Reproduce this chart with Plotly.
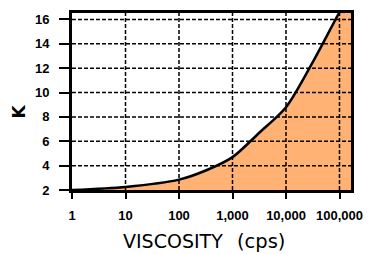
import plotly.graph_objects as go
import numpy as np

viscosity = [1, 10, 100, 316, 1000, 3162, 10000, 31623, 100000, 200000]
k_values = [2.0, 2.25, 2.85, 3.6, 4.7, 6.7, 8.8, 12.5, 16.6, 18.9]
x_tickvals = [1, 10, 100, 1000, 10000, 100000]
x_ticktext = ["1", "10", "100", "1,000", "10,000", "100,000"]
y_tickvals = [2, 4, 6, 8, 10, 12, 14, 16]

x_min, x_max = 1, 10 ** 5.215
y_min, y_max = 2, 16.53

fig = go.Figure()
fig.add_trace(go.Scatter(
    x=viscosity, y=k_values, mode="lines", line=dict(color="black", width=2.5, shape="spline", smoothing=0.8),
    fill="tozeroy", fillcolor="#FFB273", hoverinfo="skip", showlegend=False,
))
grid_style = dict(color="black", width=1.5, dash="4px,2px")
for xv in x_tickvals[1:]:
    fig.add_trace(go.Scatter(x=[xv, xv], y=[y_min, y_max], mode="lines", line=grid_style,
                             hoverinfo="skip", showlegend=False))
for yv in y_tickvals[1:]:
    fig.add_trace(go.Scatter(x=[x_min, x_max], y=[yv, yv], mode="lines", line=grid_style,
                             hoverinfo="skip", showlegend=False))

tick_font = dict(family="Liberation Sans, Arial", size=13, color="black", weight="bold")
title_font = dict(family="DejaVu Sans", size=19, color="black")

fig.update_layout(
    width=373, height=254,
    margin=dict(l=72, r=17, t=10, b=64),
    paper_bgcolor="white", plot_bgcolor="white",
    xaxis=dict(type="log", range=[np.log10(x_min), np.log10(x_max)], tickvals=x_tickvals, ticktext=x_ticktext,
               showgrid=False, zeroline=False, showline=True, linecolor="black", linewidth=3, mirror=True,
               ticks="outside", ticklen=6, tickwidth=2, tickcolor="black", tickfont=tick_font,
               ticklabelstandoff=5),
    yaxis=dict(range=[y_min, y_max], tickvals=y_tickvals, showgrid=False, zeroline=False,
               showline=True, linecolor="black", linewidth=3, mirror=True,
               ticks="outside", ticklen=10, tickwidth=2, tickcolor="black", tickfont=tick_font,
               ticklabelstandoff=7),
    annotations=[
        dict(text="VISCOSITY", xref="paper", yref="paper", x=0.176, y=0,
             xanchor="left", yanchor="top", yshift=-38, showarrow=False, font=title_font),
        dict(text="(cps)", xref="paper", yref="paper", x=0.5845, y=0,
             xanchor="left", yanchor="top", yshift=-38, showarrow=False,
             font=dict(family="DejaVu Sans", size=19.5, color="black")),
        dict(text="K", xref="paper", yref="paper", x=0, y=0.5, xshift=-54, yshift=-10,
             xanchor="center", yanchor="middle", textangle=-90, showarrow=False,
             font=dict(family="DejaVu Sans", size=17, color="black", weight="bold")),
    ],
)
fig.write_html("out.html", config={"displayModeBar": False},
               post_script="document.body.style.margin='0';")
